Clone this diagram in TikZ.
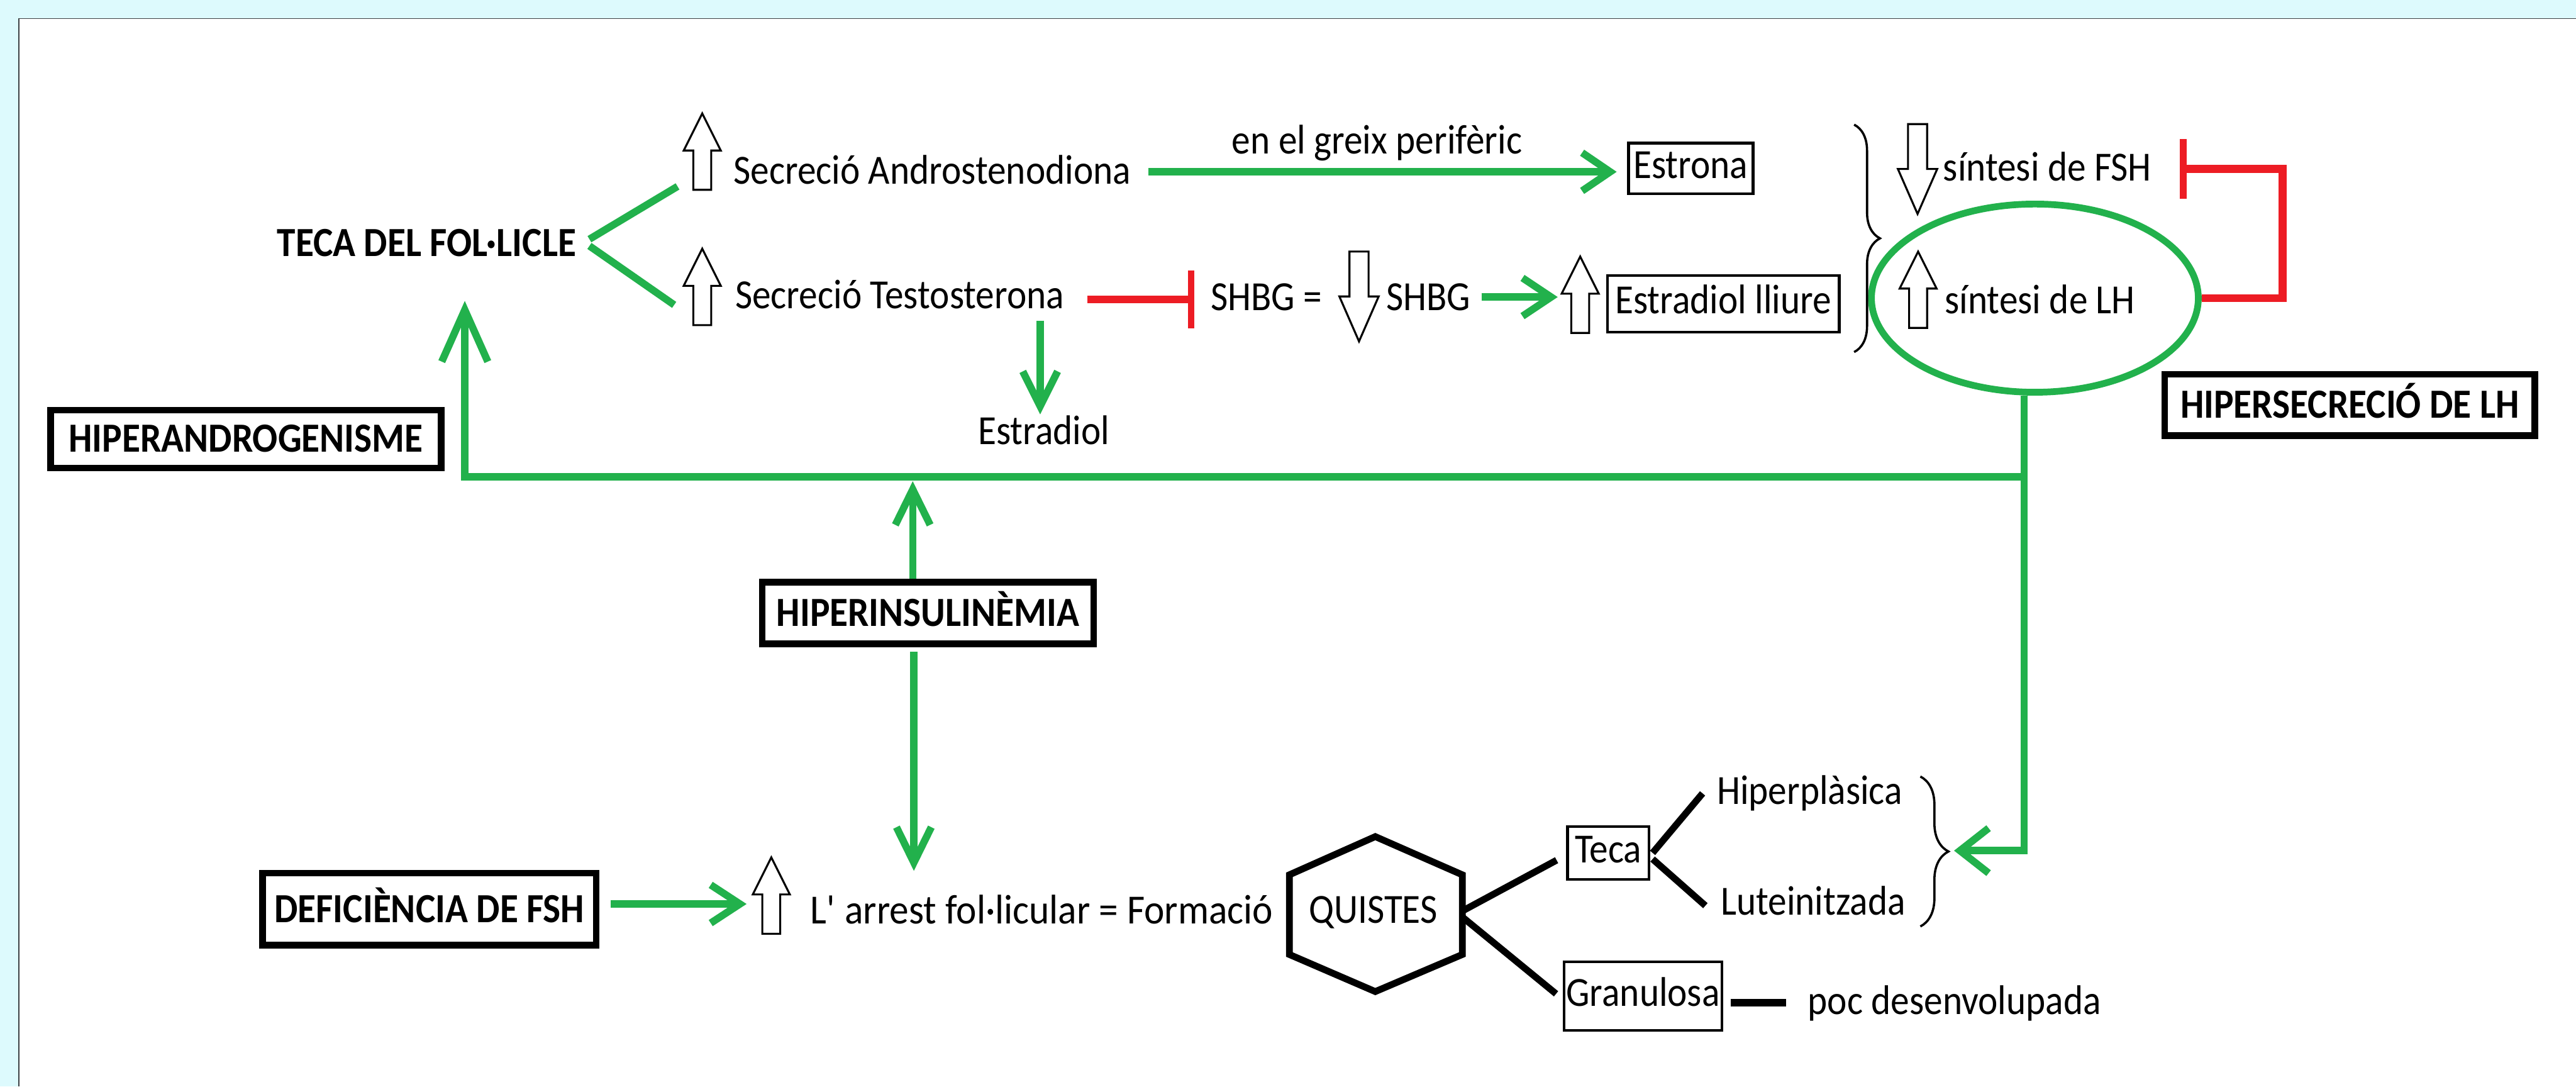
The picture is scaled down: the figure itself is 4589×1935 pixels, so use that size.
\documentclass[tikz,border=0pt]{standalone}
\usepackage{fontspec}
\setmainfont{Carlito}[FakeStretch=0.9]
\usetikzlibrary{arrows.meta,shapes.geometric,decorations.pathreplacing,calc}
\definecolor{pgreen}{RGB}{34,177,76}
\definecolor{pred}{RGB}{237,28,36}
\definecolor{pcyan}{RGB}{221,250,253}
\definecolor{pgray}{RGB}{60,64,68}
\newcommand{\fs}{\fontsize{21}{25}\selectfont}
\tikzset{
  uparr/.pic={\draw[line width=0.035cm, fill=white, line join=miter] (0,0) -- (33,66) -- (16,66) -- (16,136) -- (-16,136) -- (-16,66) -- (-33,66) -- cycle;},
  dnarr/.pic={\draw[line width=0.035cm, fill=white, line join=miter] (0,0) -- (35,-80) -- (17,-80) -- (17,-160) -- (-17,-160) -- (-17,-80) -- (-35,-80) -- cycle;}
}
\begin{document}
\begin{tikzpicture}[x=0.01cm, y=-0.01cm,
  txt/.style={inner sep=0pt, font=\fs, anchor=base west},
  bbox/.style={draw, line width=0.12cm, font=\fs\bfseries, inner sep=0pt, text height=0.47cm, text depth=0pt},
  tbox/.style={draw, line width=0.05cm, font=\fs, inner sep=0pt, text height=0.47cm, text depth=0.12cm},
  gline/.style={pgreen, line width=0.13cm},
  garr/.style 2 args={gline, -{Straight Barb[length=#1, width=#2]}},
  bline/.style={black, line width=0.12cm},
  rline/.style={pred, line width=0.14cm, line join=miter, -{Bar[width=#1, line width=0.12cm]}},
  brc/.style={black, line width=0.04cm, decorate, decoration={brace, amplitude=#1}}
]
\useasboundingbox (0,0) rectangle (4589,1935);
% background frame
\fill[pcyan] (0,0) rectangle (4589,1935);
\fill[white] (34,33) rectangle (4589,1935);
\draw[pgray, line width=0.02cm] (34,1935) -- (34,33) -- (4589,33);

% text nodes
\node[txt, font=\fs\bfseries] (teca) at (493,456) {TECA DEL FOL·LICLE};
\node[txt] (andro) at (1306,328) {Secreció Androstenodiona};
\node[txt] (testo) at (1309,549) {Secreció Testosterona};
\node[txt] (greix) at (2194,274) {en el greix perifèric};
\node[tbox, minimum width=2.22cm, minimum height=0.90cm] (estrona) at (3012,300) {Estrona};
\node[txt] (shbga) at (2156,553) {SHBG =};
\node[txt] (shbgb) at (2469,553) {SHBG};
\node[tbox, minimum width=4.13cm, minimum height=1.01cm] (lliure) at (3070,541) {Estradiol lliure};
\node[txt] (estradiol) at (1742,791) {Estradiol};
\node[txt] (fsh) at (3461,322) {síntesi de FSH};
\node[txt] (lh) at (3464,559) {síntesi de LH};
\node[ellipse, draw=pgreen, line width=0.12cm, minimum width=5.82cm, minimum height=3.35cm, inner sep=0pt] (ell) at (3625,531) {};
\node[bbox, minimum width=6.95cm, minimum height=1.03cm] (hiperandro) at (438,782) {HIPERANDROGENISME};
\node[bbox, minimum width=6.59cm, minimum height=1.09cm] (hipersec) at (4186,721) {HIPERSECRECIÓ DE LH};
\node[bbox, minimum width=5.90cm, minimum height=1.10cm] (hiperins) at (1653,1092) {HIPERINSULINÈMIA};
\node[bbox, minimum width=5.94cm, minimum height=1.28cm] (deficiencia) at (765,1619) {DEFICIÈNCIA DE FSH};
\node[txt] (arrest) at (1443,1645) {\scalebox{1.035}[1]{L\textquotesingle{} arrest fol·licular = Formació}};
\node[txt] (quistes) at (2331,1644) {QUISTES};
\node[tbox, minimum width=1.45cm, minimum height=0.94cm] (teca2) at (2865,1519) {Teca};
\node[tbox, minimum width=2.81cm, minimum height=1.22cm] (granulosa) at (2927,1774) {Granulosa};
\node[txt] (hiperpl) at (3058,1432) {Hiperplàsica};
\node[txt] (lutein) at (3065,1630) {Luteinitzada};
\node[txt] (poc) at (3220,1806) {poc desenvolupada};

% hexagon around QUISTES
\coordinate (hxT) at (2450,1490);
\coordinate (hxUR) at (2605,1558);
\coordinate (hxLR) at (2605,1700);
\coordinate (hxB) at (2450,1766);
\coordinate (hxLL) at (2297,1700);
\coordinate (hxUL) at (2297,1558);
\draw[bline, line join=miter] (hxT) -- (hxUR) -- (hxLR) -- (hxB) -- (hxLL) -- (hxUL) -- cycle;

% black connectors
\coordinate (hxR1) at (2606,1622);
\coordinate (hxR2) at (2606,1634);
\coordinate (tecaL) at (2773,1532);
\coordinate (granL) at (2772,1770);
\coordinate (tecaR1) at (2944,1519);
\coordinate (tecaR2) at (2944,1530);
\coordinate (hplL) at (3033,1413);
\coordinate (lutL) at (3038,1613);
\coordinate (granR) at (3083,1786);
\coordinate (pocL) at (3182,1786);
\draw[bline] (hxR1) -- (tecaL);
\draw[bline] (hxR2) -- (granL);
\draw[bline] (tecaR1) -- (hplL);
\draw[bline] (tecaR2) -- (lutL);
\draw[black, line width=0.14cm] (granR) -- (pocL);

% green connectors
\coordinate (tecaR) at (1050,426);
\coordinate (tecaRb) at (1050,438);
\coordinate (androL) at (1207,332);
\coordinate (testoL) at (1201,543);
\draw[gline] (tecaR) -- (androL);
\draw[gline] (tecaRb) -- (testoL);
\coordinate (androR) at (2046,306);
\coordinate (estronaL) at (2880,306);
\draw[garr={0.5cm}{0.68cm}] (androR) -- (estronaL);
\coordinate (testoB) at (1853,571);
\coordinate (estradT) at (1853,738);
\draw[garr={0.62cm}{0.62cm}] (testoB) -- (estradT);
\coordinate (shbgR) at (2639,529);
\coordinate (ua3L) at (2775,529);
\draw[garr={0.51cm}{0.68cm}] (shbgR) -- (ua3L);
\coordinate (jx) at (3606,849);
\coordinate (tecaB) at (828,536);
\draw[garr={0.92cm}{0.82cm}, line join=miter] (jx) -- (tecaB |- jx) -- (tecaB);
\coordinate (brTip) at (3481,1515);
\draw[garr={0.51cm}{0.80cm}, line join=miter] (ell.south -| jx) -- (jx |- brTip) -- (brTip);
\coordinate (insT) at (1626,857);
\coordinate (insB) at (1628,1551);
\draw[garr={0.63cm}{0.62cm}] (hiperins.north -| insT) -- (insT);
\draw[garr={0.63cm}{0.62cm}] ([yshift=-0.08cm]hiperins.south -| insB) -- (insB);
\coordinate (defR) at (1088,1610);
\coordinate (arrL) at (1330,1610);
\draw[garr={0.52cm}{0.68cm}] (defR) -- (arrL);

% red inhibitions
\coordinate (testoR) at (1937,533);
\coordinate (shbgBar) at (2128,533);
\draw[rline=1.03cm] (testoR) -- (shbgBar);
\coordinate (fshBar) at (3883,301);
\draw[rline=1.07cm] (ell.east) -- ++(144,0) |- (fshBar);

% braces
\draw[brc=0.46cm] (3303,222) -- (3303,627);
\draw[brc=0.50cm] (3421,1383) -- (3421,1650);

% hollow block arrows
\pic (ua1) at (1251,202) {uparr};
\pic (ua2) at (1251,443) {uparr};
\pic (da1) at (3416,381) {dnarr};
\pic (da2) at (2421,608) {dnarr};
\pic (ua3) at (2815,457) {uparr};
\pic (ua4) at (3417,448) {uparr};
\pic (ua5) at (1374,1527) {uparr};
\end{tikzpicture}
\end{document}
